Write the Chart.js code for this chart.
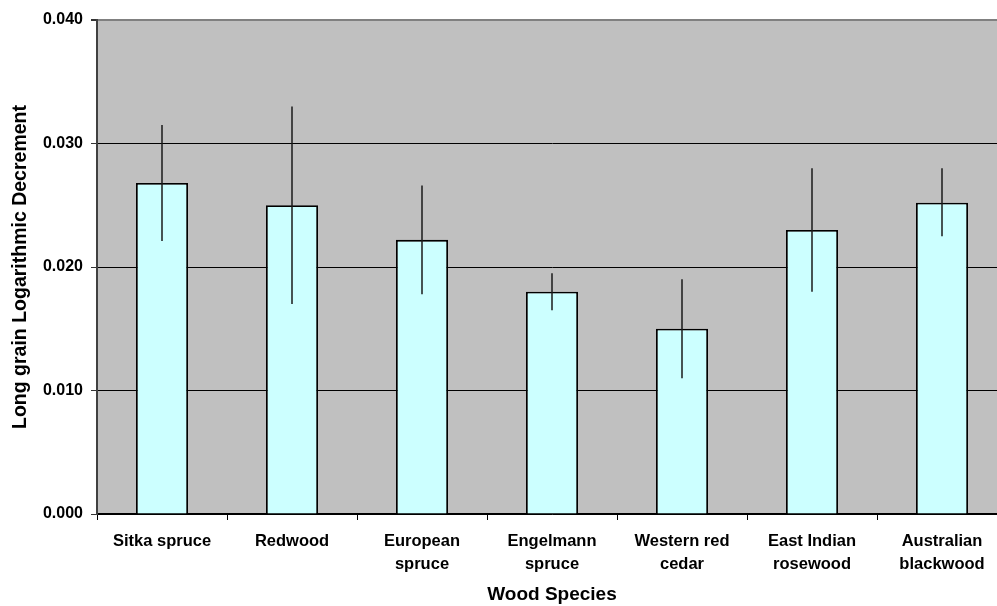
<!DOCTYPE html>
<html>
<head>
<meta charset="utf-8">
<script src="https://cdn.jsdelivr.net/npm/chart.js@4"></script>
<style>
  html, body { margin: 0; padding: 0; background: #fff; overflow: hidden; }
  #wrap { width: 1010px; height: 606px; }
</style>
</head>
<body>
<div id="wrap"><canvas id="c" width="1010" height="606"></canvas></div>
<script>
const categories = ['Sitka spruce', 'Redwood', ['European', 'spruce'], ['Engelmann', 'spruce'], ['Western red', 'cedar'], ['East Indian', 'rosewood'], ['Australian', 'blackwood']];
const decrement = [0.0268, 0.0250, 0.0222, 0.0180, 0.0150, 0.0230, 0.0252];
const errorPlus = [0.0047, 0.0080, 0.0044, 0.0015, 0.0040, 0.0050, 0.0028];
const errorMinus = [0.0047, 0.0080, 0.0044, 0.0015, 0.0040, 0.0050, 0.0027];
const yTicks = [0, 0.01, 0.02, 0.03, 0.04];

const plotBg = {
  id: 'plotBg',
  beforeDraw(chart) {
    const a = chart.chartArea, ctx = chart.ctx;
    ctx.save();
    ctx.fillStyle = '#c0c0c0';
    ctx.fillRect(a.left, a.top, a.right - a.left, a.bottom - a.top);
    ctx.restore();
  }
};

const errorBars = {
  id: 'errorBars',
  afterDatasetsDraw(chart) {
    const ctx = chart.ctx, meta = chart.getDatasetMeta(0), y = chart.scales.y;
    ctx.save();
    ctx.strokeStyle = '#1a1a1a';
    ctx.lineWidth = 1.5;
    meta.data.forEach((bar, i) => {
      const v = decrement[i];
      const yTop = y.getPixelForValue(v + errorPlus[i]);
      const yBot = y.getPixelForValue(v - errorMinus[i]);
      ctx.beginPath();
      ctx.moveTo(bar.x, yTop);
      ctx.lineTo(bar.x, yBot);
      ctx.stroke();
    });
    ctx.restore();
  }
};

new Chart(document.getElementById('c'), {
  type: 'bar',
  data: {
    labels: categories,
    datasets: [{
      data: decrement,
      backgroundColor: '#ccffff',
      borderColor: '#000000',
      borderWidth: 1.8,
      barPercentage: 0.4,
      categoryPercentage: 1.0
    }]
  },
  options: {
    responsive: false,
    animation: false,
    layout: { padding: { top: 20, right: 3, left: 0, bottom: 0 } },
    plugins: { legend: { display: false }, tooltip: { enabled: false } },
    scales: {
      x: {
        offset: true,
        grid: { offset: true, drawOnChartArea: false, drawTicks: true, tickLength: 6, color: '#000' },
        border: { color: '#000', width: 1.5 },
        ticks: {
          color: '#000',
          font: { family: 'Liberation Sans, Arial, sans-serif', weight: 'bold', size: 16.5, lineHeight: 1.38 },
          padding: 10,
          maxRotation: 0,
          autoSkip: false
        },
        title: {
          display: true,
          text: 'Wood Species',
          color: '#000',
          font: { family: 'Liberation Sans, Arial, sans-serif', weight: 'bold', size: 19 },
          padding: { top: 0, bottom: 0 }
        },
        afterFit(s) { s.height = 92; }
      },
      y: {
        min: 0,
        max: 0.04,
        afterBuildTicks(s) { s.ticks = yTicks.map(v => ({ value: v })); },
        grid: {
          color: ctx => (ctx.tick && ctx.tick.value === 0.04) ? '#808080' : '#000',
          lineWidth: ctx => (ctx.tick && ctx.tick.value === 0.04) ? 2 : 1,
          tickColor: '#333',
          tickLength: 6
        },
        border: { color: '#404040', width: 2 },
        ticks: {
          color: '#000',
          font: { family: 'Liberation Sans, Arial, sans-serif', weight: 'bold', size: 16 },
          padding: 8,
          callback: v => Number(v).toFixed(3)
        },
        title: {
          display: true,
          text: 'Long grain Logarithmic Decrement',
          color: '#000',
          font: { family: 'Liberation Sans, Arial, sans-serif', weight: 'bold', size: 19.5 },
          padding: { top: 9, bottom: 0 }
        },
        afterFit(s) { s.width = 97; }
      }
    }
  },
  plugins: [plotBg, errorBars]
});
</script>
</body>
</html>
